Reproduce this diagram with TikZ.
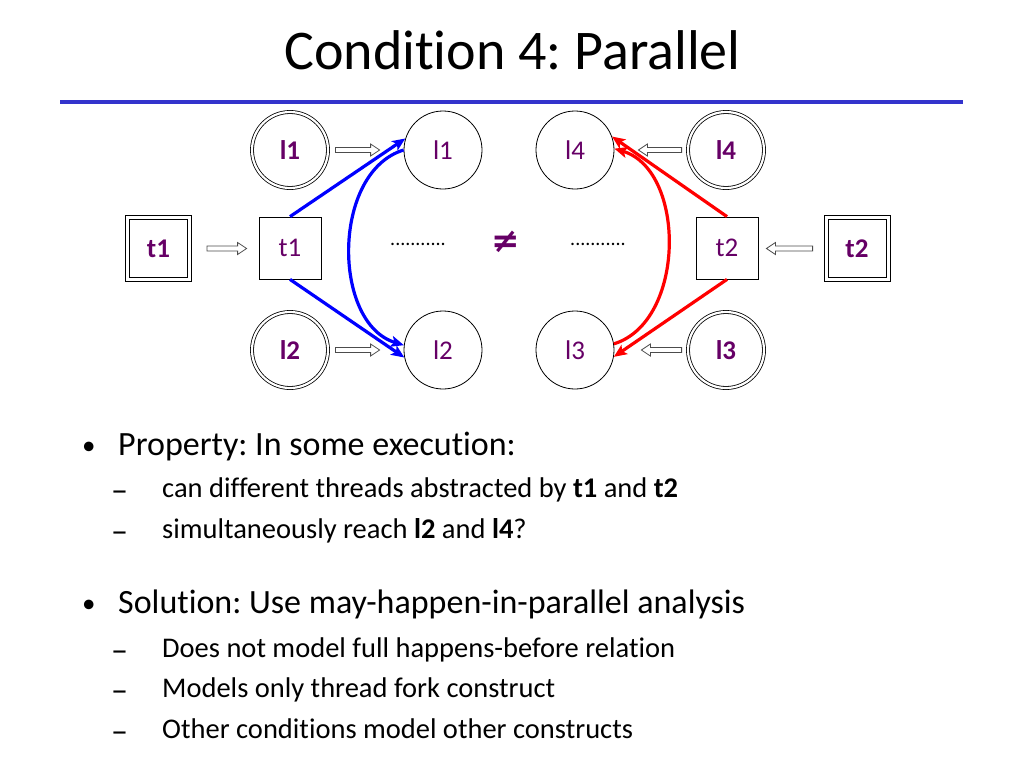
\documentclass[tikz,border=0pt]{standalone}
\usepackage{fontspec}
\setmainfont{Carlito}[Ligatures=NoCommon]
\newfontfamily\symfont{DejaVu Sans}
\usetikzlibrary{arrows.meta,calc}
\definecolor{lblc}{RGB}{102,0,102}
\definecolor{rulec}{RGB}{51,51,204}
\frenchspacing
\newcommand\hArrR[2]{\draw[hollowst] let \p1=#1, \p2=#2 in
  (\x1,\y1+2.5pt) -- (\x2-9pt,\y1+2.5pt) -- (\x2-9pt,\y1+6pt) -- (\x2,\y1) --
  (\x2-9pt,\y1-6pt) -- (\x2-9pt,\y1-2.5pt) -- (\x1,\y1-2.5pt) -- cycle;}
\newcommand\hArrL[2]{\draw[hollowst] let \p1=#1, \p2=#2 in
  (\x1,\y1+2.5pt) -- (\x2+9pt,\y1+2.5pt) -- (\x2+9pt,\y1+6pt) -- (\x2,\y1) --
  (\x2+9pt,\y1-6pt) -- (\x2+9pt,\y1-2.5pt) -- (\x1,\y1-2.5pt) -- cycle;}
\begin{document}
\begin{tikzpicture}[x=1pt,y=-1pt,
  lab/.style={text=lblc, inner sep=0pt},
  sq/.style={lab, draw, line width=0.8pt, minimum size=62pt, font=\fontsize{27}{29}\selectfont},
  dsq/.style={lab, draw, line width=0.8pt, minimum size=58pt, font=\fontsize{27}{29}\selectfont\bfseries},
  cir/.style={lab, circle, draw, line width=0.8pt, minimum size=78pt, font=\fontsize{27}{29}\selectfont},
  dcir/.style={lab, circle, draw, double, double distance=2.2pt, line width=0.8pt, minimum size=76pt, font=\fontsize{27}{29}\selectfont\bfseries},
  hollowst/.style={draw=black!70, line width=0.8pt, fill=white, line join=miter},
  blu/.style={draw=blue, line width=3.2pt, -{Stealth[length=13pt, width=11pt, inset=3pt]}},
  rd/.style={draw=red, line width=3.2pt, -{Stealth[length=13pt, width=11pt, inset=3pt]}},
  txt/.style={anchor=base west, inner sep=0pt},
  big/.style={txt, font=\fontsize{34}{38}\selectfont},
  small/.style={txt, font=\fontsize{28.5}{32}\selectfont},
  bul/.style={txt, font=\fontsize{27}{30}\selectfont},
  dsh/.style={txt, font=\fontsize{34}{36}\selectfont},
  dots/.style={inner sep=0pt, font=\fontsize{20}{22}\selectfont}
]
\useasboundingbox (0,0) rectangle (1024,768);
% title
\node[anchor=base, inner sep=0pt, font=\fontsize{56}{60}\selectfont] (title) at (512.5,70) {Condition 4: Parallel};
\draw[rulec, line width=4pt] (60,102) coordinate (ra) -- (963,102) coordinate (rb);

% left nodes
\node[dsq] (T1d) at (158.5,248.5) {t1};
\node[sq] (T1) at (290,248) {t1};
\node[dcir] (L1d) at (290,150) {l1};
\node[cir] (L1) at (443,150) {l1};
\node[dcir] (L2d) at (290,350) {l2};
\node[cir] (L2) at (443,350) {l2};
% right nodes
\node[cir] (L4) at (575,150) {l4};
\node[dcir] (L4d) at (726,150) {l4};
\node[sq] (T2) at (727,248) {t2};
\node[dsq] (T2d) at (857,248.5) {t2};
\node[cir] (L3) at (575,350) {l3};
\node[dcir] (L3d) at (726,350) {l3};
% outer frames of the double squares
\draw[line width=0.8pt] ([shift={(-3.5,-3.5)}]T1d.north west) rectangle ([shift={(3.5,3.5)}]T1d.south east);
\draw[line width=0.8pt] ([shift={(-3.5,-3.5)}]T2d.north west) rectangle ([shift={(3.5,3.5)}]T2d.south east);

% dots and neq
\node[dots] (dl) at (418,244) {...........};
\node[dots] (dr) at (598,244) {...........};
\node[inner sep=0pt, text=lblc, font=\symfont\fontsize{34}{36}\selectfont\bfseries] (neq) at (506,242) {≠};

% hollow arrows
\hArrR{($(L1d.east)+(7,0)$)}{($(L1.west)+(-24,0)$)}
\hArrR{($(L2d.east)+(7,0)$)}{($(L2.west)+(-24,0)$)}
\hArrR{($(T1d.east)+(19,0)$)}{($(T1.west)+(-12,0)$)}
\hArrL{($(L4d.west)+(-6,0)$)}{($(L4.east)+(24,0)$)}
\hArrL{($(L3d.west)+(-6,0)$)}{($(L3.east)+(27,0)$)}
\hArrL{($(T2d.west)+(-15,0)$)}{($(T2.east)+(8,0)$)}

% blue
\draw[blu] (T1.north) -- (L1.163);
\draw[blu] (T1.south) -- (L2.191);
\draw[blu] (L1.180) .. controls +(-72,22) and +(-72,-22) .. (L2.173);
% red
\draw[rd] (T2.north) -- (L4.20);
\draw[rd] (T2.south) -- (L3.350);
\draw[rd] (L3.9) .. controls +(72,-22) and +(72,22) .. (L4.2);

% bullets
\node[bul] (b1) at (82,454) {•};
\node[big] (p1) at (118,455) {Property: In some execution:};
\node[dsh] (d1) at (111,501) {–};
\node[small] (s1) at (162,497) {can different threads abstracted by \textbf{t1} and \textbf{t2}};
\node[dsh] (d2) at (111,542) {–};
\node[small] (s2) at (162,538) {simultaneously reach \textbf{l2} and \textbf{l4}?};
\node[bul] (b2) at (82,612) {•};
\node[big] (p2) at (118,613) {Solution: Use may-happen-in-parallel analysis};
\node[dsh] (d3) at (111,661) {–};
\node[small] (s3) at (162,657) {Does not model full happens-before relation};
\node[dsh] (d4) at (111,701) {–};
\node[small] (s4) at (162,697) {Models only thread fork construct};
\node[dsh] (d5) at (111,742) {–};
\node[small] (s5) at (162,738) {Other conditions model other constructs};
\end{tikzpicture}
\end{document}
